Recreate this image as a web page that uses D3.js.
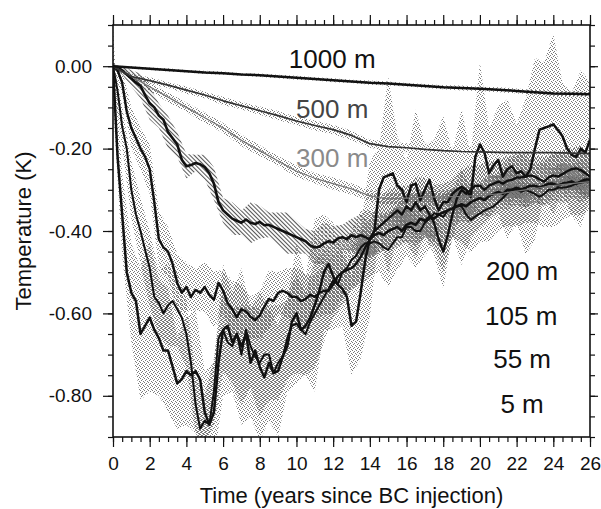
<!DOCTYPE html>
<html>
<head>
<meta charset="utf-8">
<script src="https://cdnjs.cloudflare.com/ajax/libs/d3/7.8.5/d3.min.js"></script>
<style>
  body { margin: 0; background: #fff; }
  svg text { font-family: "Liberation Sans", Arial, Helvetica, sans-serif; fill: #111; }
</style>
</head>
<body>
<svg id="chart" width="601" height="509"></svg>
<script>
// ---- data (temperature anomaly, K) ----
// deep levels, one value per year, t = 0..26
var temp1000 = [0, -0.003, -0.006, -0.009, -0.012, -0.015, -0.017, -0.02, -0.022, -0.025,
  -0.028, -0.031, -0.034, -0.037, -0.04, -0.042, -0.045, -0.048, -0.051, -0.053,
  -0.055, -0.057, -0.06, -0.063, -0.066, -0.067, -0.068];
var temp500 = [0, -0.025, -0.035, -0.046, -0.058, -0.07, -0.084, -0.096, -0.108, -0.12,
  -0.133, -0.144, -0.154, -0.168, -0.188, -0.195, -0.198, -0.202, -0.205, -0.207,
  -0.208, -0.209, -0.21, -0.21, -0.21, -0.211, -0.212];
var temp300 = [0, -0.025, -0.05, -0.075, -0.1, -0.125, -0.15, -0.18, -0.205, -0.23,
  -0.255, -0.272, -0.285, -0.298, -0.315, -0.322, -0.32, -0.318, -0.317, -0.316,
  -0.314, -0.31, -0.303, -0.297, -0.29, -0.285, -0.28];
var spread1000 = [0.002, 0.003, 0.003, 0.004, 0.003, 0.004, 0.004, 0.003, 0.004, 0.004,
  0.005, 0.004, 0.005, 0.004, 0.005, 0.005, 0.004, 0.005, 0.005, 0.006,
  0.005, 0.006, 0.006, 0.005, 0.006, 0.006, 0.005];
var spread500 = [0.003, 0.006, 0.008, 0.007, 0.009, 0.008, 0.01, 0.009, 0.01, 0.011,
  0.01, 0.012, 0.011, 0.012, 0.01, 0.012, 0.011, 0.012, 0.01, 0.011,
  0.012, 0.011, 0.012, 0.01, 0.011, 0.012, 0.011];
var spread300 = [0.004, 0.008, 0.01, 0.012, 0.011, 0.013, 0.012, 0.014, 0.013, 0.012,
  0.014, 0.013, 0.015, 0.014, 0.013, 0.015, 0.014, 0.013, 0.015, 0.014,
  0.013, 0.015, 0.014, 0.013, 0.014, 0.015, 0.014];

// upper levels, four values per year, t = 0..26
var temp200 = [0, -0.003, -0.01, -0.02,  -0.03, -0.04, -0.048, -0.07,
  -0.09, -0.1, -0.12, -0.13,  -0.16, -0.175, -0.19, -0.227,
  -0.243, -0.24, -0.235, -0.238,  -0.245, -0.26, -0.285, -0.33,
  -0.35, -0.36, -0.37, -0.375,  -0.38, -0.372, -0.38, -0.383,
  -0.378, -0.386, -0.385, -0.39,  -0.395, -0.4, -0.405, -0.41,
  -0.415, -0.42, -0.425, -0.435,  -0.44, -0.438, -0.43, -0.425,
  -0.428, -0.418, -0.415, -0.42,  -0.41, -0.415, -0.41, -0.415,
  -0.42, -0.41, -0.405, -0.41,  -0.4, -0.395, -0.39, -0.4,
  -0.385, -0.38, -0.385, -0.37,  -0.375, -0.365, -0.37, -0.36,
  -0.355, -0.35, -0.345, -0.34,  -0.335, -0.34, -0.33, -0.325,
  -0.32, -0.325, -0.315, -0.31,  -0.305, -0.31, -0.3, -0.3,
  -0.295, -0.3, -0.295, -0.29,  -0.29, -0.295, -0.29, -0.285,
  -0.285, -0.29, -0.285, -0.283,  -0.28, -0.285, -0.28, -0.275,
  -0.275];
var temp105 = [0, -0.01, -0.04, -0.11,  -0.15, -0.175, -0.2, -0.22,
  -0.25, -0.33, -0.42, -0.44,  -0.45, -0.48, -0.526, -0.55,
  -0.536, -0.56, -0.543, -0.55,  -0.536, -0.555, -0.567, -0.526,
  -0.545, -0.575, -0.59, -0.609,  -0.59, -0.595, -0.609, -0.616,
  -0.605, -0.584, -0.565, -0.57,  -0.55, -0.545, -0.55, -0.56,
  -0.56, -0.57, -0.565, -0.555,  -0.56, -0.55, -0.545, -0.545,
  -0.53, -0.51, -0.5, -0.495,  -0.49, -0.48, -0.463, -0.44,
  -0.42, -0.4, -0.39, -0.38,  -0.37, -0.36, -0.35, -0.36,
  -0.34, -0.35, -0.33, -0.35,  -0.34, -0.36, -0.38, -0.42,
  -0.45, -0.41, -0.36, -0.32,  -0.3, -0.31, -0.3, -0.29,
  -0.29, -0.3, -0.29, -0.285,  -0.28, -0.285, -0.278, -0.276,
  -0.27, -0.27, -0.268, -0.265,  -0.268, -0.275, -0.28, -0.27,
  -0.265, -0.268, -0.262, -0.255,  -0.25, -0.248, -0.252, -0.26,
  -0.268];
var temp55 = [0, -0.06, -0.146, -0.2,  -0.3, -0.36, -0.4, -0.446,
  -0.49, -0.56, -0.575, -0.6,  -0.58, -0.57, -0.59, -0.61,
  -0.65, -0.72, -0.82, -0.88,  -0.86, -0.87, -0.79, -0.66,
  -0.64, -0.67, -0.68, -0.65,  -0.7, -0.64, -0.68, -0.705,
  -0.72, -0.7, -0.7, -0.745,  -0.72, -0.705, -0.66, -0.63,
  -0.625, -0.64, -0.65, -0.62,  -0.6, -0.58, -0.56, -0.54,
  -0.52, -0.53, -0.5, -0.49,  -0.47, -0.46, -0.44, -0.43,
  -0.43, -0.425, -0.43, -0.44,  -0.446, -0.43, -0.415, -0.415,
  -0.39, -0.39, -0.4, -0.4,  -0.38, -0.37, -0.357, -0.36,
  -0.366, -0.35, -0.345, -0.34,  -0.34, -0.36, -0.373, -0.365,
  -0.357, -0.35, -0.345, -0.34,  -0.33, -0.32, -0.308, -0.3,
  -0.3, -0.305, -0.3, -0.305,  -0.31, -0.317, -0.31, -0.3,
  -0.3, -0.295, -0.295, -0.293,  -0.29, -0.285, -0.283, -0.28,
  -0.28];
var temp5 = [0, -0.22, -0.36, -0.5,  -0.55, -0.57, -0.65, -0.63,
  -0.61, -0.64, -0.66, -0.69,  -0.69, -0.73, -0.77, -0.76,
  -0.74, -0.75, -0.74, -0.76,  -0.84, -0.87, -0.84, -0.72,
  -0.64, -0.63, -0.67, -0.65,  -0.68, -0.65, -0.72, -0.69,
  -0.73, -0.755, -0.72, -0.745,  -0.74, -0.705, -0.68, -0.62,
  -0.6, -0.64, -0.63, -0.61,  -0.58, -0.545, -0.5, -0.48,
  -0.51, -0.53, -0.54, -0.56,  -0.63, -0.62, -0.55, -0.47,
  -0.42, -0.4, -0.3, -0.27,  -0.265, -0.26, -0.29, -0.3,
  -0.33, -0.29, -0.285, -0.325,  -0.3, -0.276, -0.32, -0.35,
  -0.33, -0.33, -0.31, -0.3,  -0.293, -0.3, -0.317, -0.22,
  -0.19, -0.21, -0.26, -0.24,  -0.227, -0.268, -0.25, -0.243,
  -0.26, -0.255, -0.268, -0.25,  -0.2, -0.154, -0.15, -0.146,
  -0.141, -0.155, -0.17, -0.2,  -0.215, -0.22, -0.2, -0.21,
  -0.178];

// half-width of the ensemble spread, two values per year, t = 0..26
var spread200 = [0.005, 0.01, 0.02, 0.03, 0.04, 0.03, 0.04, 0.03, 0.03, 0.02,
  0.03, 0.04, 0.03, 0.04, 0.03, 0.05, 0.04, 0.03, 0.04, 0.05,
  0.04, 0.03, 0.04, 0.05, 0.04, 0.03, 0.04, 0.05, 0.04, 0.05,
  0.04, 0.05, 0.04, 0.05, 0.04, 0.05, 0.04, 0.05, 0.04, 0.05,
  0.04, 0.05, 0.04, 0.05, 0.04, 0.05, 0.04, 0.05, 0.04, 0.05,
  0.04, 0.05, 0.04];
var spread105 = [0.01, 0.03, 0.05, 0.05, 0.06, 0.07, 0.06, 0.07, 0.06, 0.05,
  0.06, 0.07, 0.05, 0.07, 0.06, 0.05, 0.06, 0.07, 0.05, 0.06,
  0.07, 0.06, 0.05, 0.06, 0.07, 0.06, 0.05, 0.06, 0.05, 0.06,
  0.07, 0.06, 0.05, 0.06, 0.07, 0.06, 0.05, 0.06, 0.05, 0.06,
  0.05, 0.06, 0.05, 0.06, 0.05, 0.06, 0.05, 0.06, 0.05, 0.06,
  0.05, 0.06, 0.05];
var spread55 = [0.02, 0.05, 0.07, 0.08, 0.09, 0.08, 0.1, 0.09, 0.08, 0.07,
  0.06, 0.08, 0.1, 0.09, 0.12, 0.1, 0.13, 0.11, 0.09, 0.1,
  0.12, 0.1, 0.13, 0.11, 0.09, 0.08, 0.07, 0.09, 0.08, 0.07,
  0.09, 0.08, 0.07, 0.09, 0.08, 0.07, 0.08, 0.07, 0.09, 0.08,
  0.07, 0.08, 0.07, 0.08, 0.09, 0.08, 0.07, 0.08, 0.09, 0.08,
  0.07, 0.08, 0.07];
var spread5 = [0.09, 0.1, 0.12, 0.16, 0.18, 0.14, 0.15, 0.11, 0.13, 0.15,
  0.1, 0.12, 0.16, 0.12, 0.19, 0.13, 0.18, 0.14, 0.16, 0.11,
  0.17, 0.12, 0.21, 0.14, 0.13, 0.09, 0.12, 0.16, 0.19, 0.1,
  0.24, 0.12, 0.1, 0.18, 0.11, 0.14, 0.21, 0.1, 0.19, 0.1,
  0.2, 0.11, 0.13, 0.17, 0.12, 0.19, 0.22, 0.16, 0.22, 0.13,
  0.15, 0.19, 0.14];

var xTickLabels = [0, 2, 4, 6, 8, 10, 12, 14, 16, 18, 20, 22, 24, 26];
var yTickLabels = [0, -0.2, -0.4, -0.6, -0.8];

var DEEP_STEP = 1, FINE_STEP = 0.25, BAND_STEP = 0.5;

// ---- layout ----
var plot = {left: 113, right: 590, top: 25, bottom: 437};

var svg = d3.select('#chart');
var x = d3.scaleLinear().domain([0, 26]).range([plot.left, plot.right]);
var y = d3.scaleLinear().domain([-0.9, 0.1]).range([plot.bottom, plot.top]);

var defs = svg.append('defs');
defs.append('clipPath').attr('id', 'plotClip')
  .append('rect')
  .attr('x', plot.left).attr('y', plot.top)
  .attr('width', plot.right - plot.left).attr('height', plot.bottom - plot.top);

// stipple patterns, shifted so overlapping bands get darker like the print
var dotCells = [[0, 0], [2, 1], [1, 3], [3, 2]];
[0, 1, 2, 3].forEach(function(k) {
  var p = defs.append('pattern')
    .attr('id', 'stip' + k)
    .attr('patternUnits', 'userSpaceOnUse')
    .attr('width', 4).attr('height', 4)
    .attr('patternTransform', 'translate(' + (k % 2) + ',' + (k > 1 ? 1 : 0) + ')');
  p.selectAll('rect').data(dotCells).enter().append('rect')
    .attr('x', function(d) { return d[0]; })
    .attr('y', function(d) { return d[1]; })
    .attr('width', 1).attr('height', 1)
    .attr('fill', '#7a7a7a')
    .attr('shape-rendering', 'crispEdges');
});
var hatch = defs.append('pattern')
  .attr('id', 'hatch')
  .attr('patternUnits', 'userSpaceOnUse')
  .attr('width', 3).attr('height', 3)
  .attr('patternTransform', 'rotate(-45)');
hatch.append('line')
  .attr('x1', 0.5).attr('y1', 0).attr('x2', 0.5).attr('y2', 3)
  .attr('stroke', '#555').attr('stroke-width', 1.1);

var series = [
  {name: '1000 m', values: temp1000, step: DEEP_STEP, spread: spread1000, sStep: DEEP_STEP, color: '#111', width: 2.5, fill: 'url(#stip0)'},
  {name: '500 m', values: temp500, step: DEEP_STEP, spread: spread500, sStep: DEEP_STEP, color: '#333', width: 1.7, fill: 'url(#stip1)'},
  {name: '300 m', values: temp300, step: DEEP_STEP, spread: spread300, sStep: DEEP_STEP, color: '#777', width: 1.3, fill: 'url(#stip2)'},
  {name: '200 m', values: temp200, step: FINE_STEP, spread: spread200, sStep: BAND_STEP, color: '#111', width: 2.6, fill: 'url(#hatch)'},
  {name: '105 m', values: temp105, step: FINE_STEP, spread: spread105, sStep: BAND_STEP, color: '#111', width: 2.4, fill: 'url(#stip3)'},
  {name: '55 m', values: temp55, step: FINE_STEP, spread: spread55, sStep: BAND_STEP, color: '#111', width: 2.0, fill: 'url(#stip0)'},
  {name: '5 m', values: temp5, step: FINE_STEP, spread: spread5, sStep: BAND_STEP, color: '#111', width: 2.5, fill: 'url(#stip1)'}
];

var dataG = svg.append('g').attr('clip-path', 'url(#plotClip)');

// bands: centre value taken from the series at the band's own time step
var area = d3.area()
  .x(function(d) { return x(d.t); })
  .y0(function(d) { return y(d.c - d.s); })
  .y1(function(d) { return y(d.c + d.s); });

series.forEach(function(s) {
  var ratio = Math.round(s.sStep / s.step);
  var pts = s.spread.map(function(sp, i) {
    return {t: i * s.sStep, c: s.values[i * ratio], s: sp};
  });
  dataG.append('path')
    .attr('class', 'band')
    .attr('d', area(pts))
    .attr('fill', s.fill)
    .attr('stroke', 'none');
});

var line = d3.line()
  .x(function(d) { return x(d.t); })
  .y(function(d) { return y(d.v); });

// draw deeper (lighter) lines first, surface lines on top
series.slice().reverse().forEach(function(s) {
  var pts = s.values.map(function(v, i) { return {t: i * s.step, v: v}; });
  dataG.append('path')
    .attr('class', 'line')
    .attr('d', line(pts))
    .attr('fill', 'none')
    .attr('stroke', s.color)
    .attr('stroke-width', s.width)
    .attr('stroke-linejoin', 'round');
});

// ---- axes ----
var xMinor = d3.range(0, 26.001, 0.5);
var yMinor = d3.range(-0.9, 0.1001, 0.05).map(function(v) { return Math.round(v * 100) / 100; });
var fmtY = function(v) { return v.toFixed(2); };

function styleAxis(g) {
  g.select('.domain').remove();
  g.selectAll('line').attr('stroke', '#111').attr('stroke-width', 1.2);
  g.selectAll('text').attr('font-size', 19).attr('fill', '#111');
}

// left
svg.append('g').attr('transform', 'translate(' + plot.left + ',0)')
  .call(d3.axisLeft(y).tickValues(yMinor).tickSize(5).tickFormat(''))
  .call(styleAxis);
svg.append('g').attr('transform', 'translate(' + plot.left + ',0)')
  .call(d3.axisLeft(y).tickValues(yTickLabels).tickSize(10).tickPadding(11).tickFormat(fmtY))
  .call(styleAxis);
// right
svg.append('g').attr('transform', 'translate(' + plot.right + ',0)')
  .call(d3.axisRight(y).tickValues(yMinor).tickSize(5).tickFormat(''))
  .call(styleAxis);
svg.append('g').attr('transform', 'translate(' + plot.right + ',0)')
  .call(d3.axisRight(y).tickValues(yTickLabels).tickSize(8).tickFormat(''))
  .call(styleAxis);
// bottom
svg.append('g').attr('transform', 'translate(0,' + plot.bottom + ')')
  .call(d3.axisBottom(x).tickValues(xMinor).tickSize(5).tickFormat(''))
  .call(styleAxis);
svg.append('g').attr('transform', 'translate(0,' + plot.bottom + ')')
  .call(d3.axisBottom(x).tickValues(xTickLabels).tickSize(10).tickPadding(10).tickFormat(d3.format('d')))
  .call(styleAxis);
// top
svg.append('g').attr('transform', 'translate(0,' + plot.top + ')')
  .call(d3.axisTop(x).tickValues(xMinor).tickSize(5).tickFormat(''))
  .call(styleAxis);
svg.append('g').attr('transform', 'translate(0,' + plot.top + ')')
  .call(d3.axisTop(x).tickValues(xTickLabels).tickSize(10).tickFormat(''))
  .call(styleAxis);

// frame
svg.append('rect')
  .attr('x', plot.left).attr('y', plot.top)
  .attr('width', plot.right - plot.left).attr('height', plot.bottom - plot.top)
  .attr('fill', 'none').attr('stroke', '#111').attr('stroke-width', 1.6);

// ---- titles ----
svg.append('text')
  .attr('x', (plot.left + plot.right) / 2).attr('y', 503)
  .attr('text-anchor', 'middle').attr('font-size', 22)
  .text('Time (years since BC injection)');
svg.append('text')
  .attr('transform', 'translate(31,' + ((plot.top + plot.bottom) / 2) + ') rotate(-90)')
  .attr('text-anchor', 'middle').attr('font-size', 22)
  .text('Temperature (K)');

// ---- depth labels ----
var depthLabels = [
  {text: '1000 m', t: 11.95, v: -0.004, color: '#111'},
  {text: '500 m', t: 11.95, v: -0.126, color: '#444'},
  {text: '300 m', t: 11.95, v: -0.245, color: '#8a8a8a'},
  {text: '200 m', t: 22.3, v: -0.519, color: '#111'},
  {text: '105 m', t: 22.25, v: -0.628, color: '#111'},
  {text: '55 m', t: 22.3, v: -0.733, color: '#111'},
  {text: '5 m', t: 22.3, v: -0.842, color: '#111'}
];
svg.selectAll('text.depth').data(depthLabels).enter().append('text')
  .attr('class', 'depth')
  .attr('x', function(d) { return x(d.t); })
  .attr('y', function(d) { return y(d.v); })
  .attr('text-anchor', 'middle')
  .attr('font-size', 26)
  .style('fill', function(d) { return d.color; })
  .text(function(d) { return d.text; });
</script>
</body>
</html>
